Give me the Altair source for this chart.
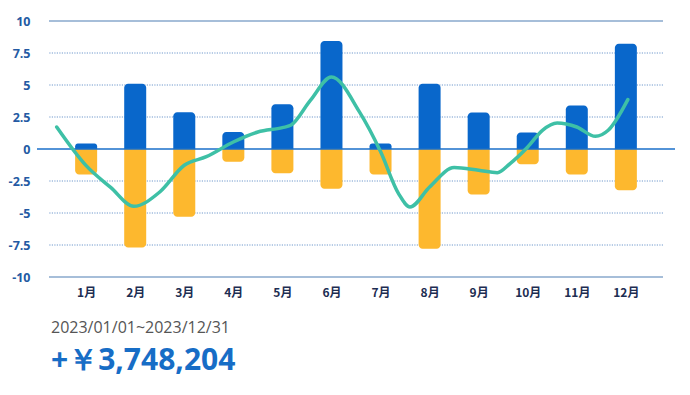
import altair as alt
import pandas as pd

months = ["1月", "2月", "3月", "4月", "5月", "6月", "7月", "8月", "9月", "10月", "11月", "12月"]
income = [0.42, 5.1, 2.87, 1.33, 3.5, 8.44, 0.42, 5.1, 2.85, 1.28, 3.4, 8.23]
expense = [-2.0, -7.7, -5.3, -1.0, -1.9, -3.1, -2.0, -7.8, -3.56, -1.2, -2.0, -3.23]

trend_x = [0.4, 1.0, 1.5, 1.97, 2.5, 3.0, 3.45, 4.0, 4.5, 5.0, 5.17, 5.57, 6.0, 6.57,
           7.0, 7.37, 7.6, 8.0, 8.5, 9.0, 9.38, 9.64, 10.0, 10.3, 10.6, 11.0, 11.38,
           11.64, 12.04]
trend_y = [1.72, -1.3, -3.0, -4.48, -3.36, -1.27, -0.6, 0.55, 1.33, 1.67, 1.85, 3.8,
           5.63, 2.9, -0.2, -3.5, -4.53, -2.97, -1.45, -1.66, -1.85, -1.14, 0.16, 1.46,
           2.03, 1.72, 0.99, 1.46, 3.86]

y_ticks = [10, 7.5, 5, 2.5, 0, -2.5, -5, -7.5, -10]
dotted_levels = [7.5, 5, 2.5, -2.5, -5, -7.5]
solid_levels = [10, -10]
period_text = "2023/01/01~2023/12/31"
total_text = "+￥3,748,204"

W, H = 614, 256

bars_df = pd.DataFrame({"m": list(range(1, 13)), "month": months,
                        "income": income, "expense": expense})
trend_df = pd.DataFrame({"m": trend_x, "v": trend_y})

x_scale = alt.Scale(domain=[0.345, 12.655], nice=False, zero=False)
y_scale = alt.Scale(domain=[-10, 10], nice=False)

label_expr = "[" + ",".join(f"'{m}'" for m in months) + "][datum.value - 1]"

x_axis = alt.Axis(values=list(range(1, 13)), labelExpr=label_expr, title=None,
                  domain=False, ticks=False, grid=False, labelPadding=10,
                  labelFont="Noto Sans CJK JP", labelFontWeight="bold",
                  labelFontSize=12, labelColor="#1d2d52")
y_axis = alt.Axis(values=y_ticks, labelExpr="'' + datum.value", title=None,
                  domain=False, ticks=False, grid=False, labelPadding=19,
                  labelFont="Open Sans", labelFontWeight="bold",
                  labelFontSize=12.5, labelColor="#245aa3")

dotted = alt.Chart(pd.DataFrame({"v": dotted_levels})).mark_rule(
    color="#7199cc", strokeWidth=1, strokeDash=[1.2, 1.3]
).encode(y=alt.Y("v:Q", scale=y_scale, axis=y_axis))

solid = alt.Chart(pd.DataFrame({"v": solid_levels})).mark_rule(
    color="#4f7fb3", strokeWidth=1.2
).encode(y=alt.Y("v:Q", scale=y_scale, axis=y_axis))

bar_in = alt.Chart(bars_df).mark_bar(
    size=22, color="#0967cb", cornerRadiusTopLeft=4, cornerRadiusTopRight=4
).encode(
    x=alt.X("m:Q", scale=x_scale, axis=x_axis),
    y=alt.Y("income:Q", scale=y_scale, axis=y_axis),
    y2=alt.datum(0),
)

bar_out = alt.Chart(bars_df).mark_bar(
    size=22, color="#fdb82e", cornerRadiusBottomLeft=4, cornerRadiusBottomRight=4
).encode(
    x=alt.X("m:Q", scale=x_scale, axis=x_axis),
    y=alt.Y("expense:Q", scale=y_scale, axis=y_axis),
    y2=alt.datum(0),
)

zero = alt.Chart(pd.DataFrame({"v": [0]})).mark_rule(
    color="#1a6fca", strokeWidth=1.5
).encode(
    y=alt.Y("v:Q", scale=y_scale, axis=y_axis),
    x=alt.value(-12),
    x2=alt.value(W + 12),
)

trend = alt.Chart(trend_df).mark_line(
    interpolate="monotone", color="#3ec0a6", strokeWidth=3.5, strokeCap="round"
).encode(
    x=alt.X("m:Q", scale=x_scale, axis=x_axis),
    y=alt.Y("v:Q", scale=y_scale, axis=y_axis),
)

period = alt.Chart(pd.DataFrame({"t": [period_text]})).mark_text(
    align="left", baseline="alphabetic", font="Open Sans", fontSize=16,
    color="#555555"
).encode(x=alt.value(2), y=alt.value(312), text="t:N")

total = alt.Chart(pd.DataFrame({"t": [total_text]})).mark_text(
    align="left", baseline="alphabetic", font="Open Sans", fontSize=30,
    fontWeight="bold", color="#176dc6"
).encode(x=alt.value(2), y=alt.value(349), text="t:N")

chart = alt.layer(dotted, solid, bar_in, bar_out, zero, trend, period, total).properties(
    width=W, height=H,
    padding={"left": 41, "top": 13, "right": 19, "bottom": 110},
    autosize=alt.AutoSizeParams(type="none"),
    background="white",
).configure_view(stroke=None)

chart.save("out.html", embed_options={"renderer": "svg", "actions": False})
